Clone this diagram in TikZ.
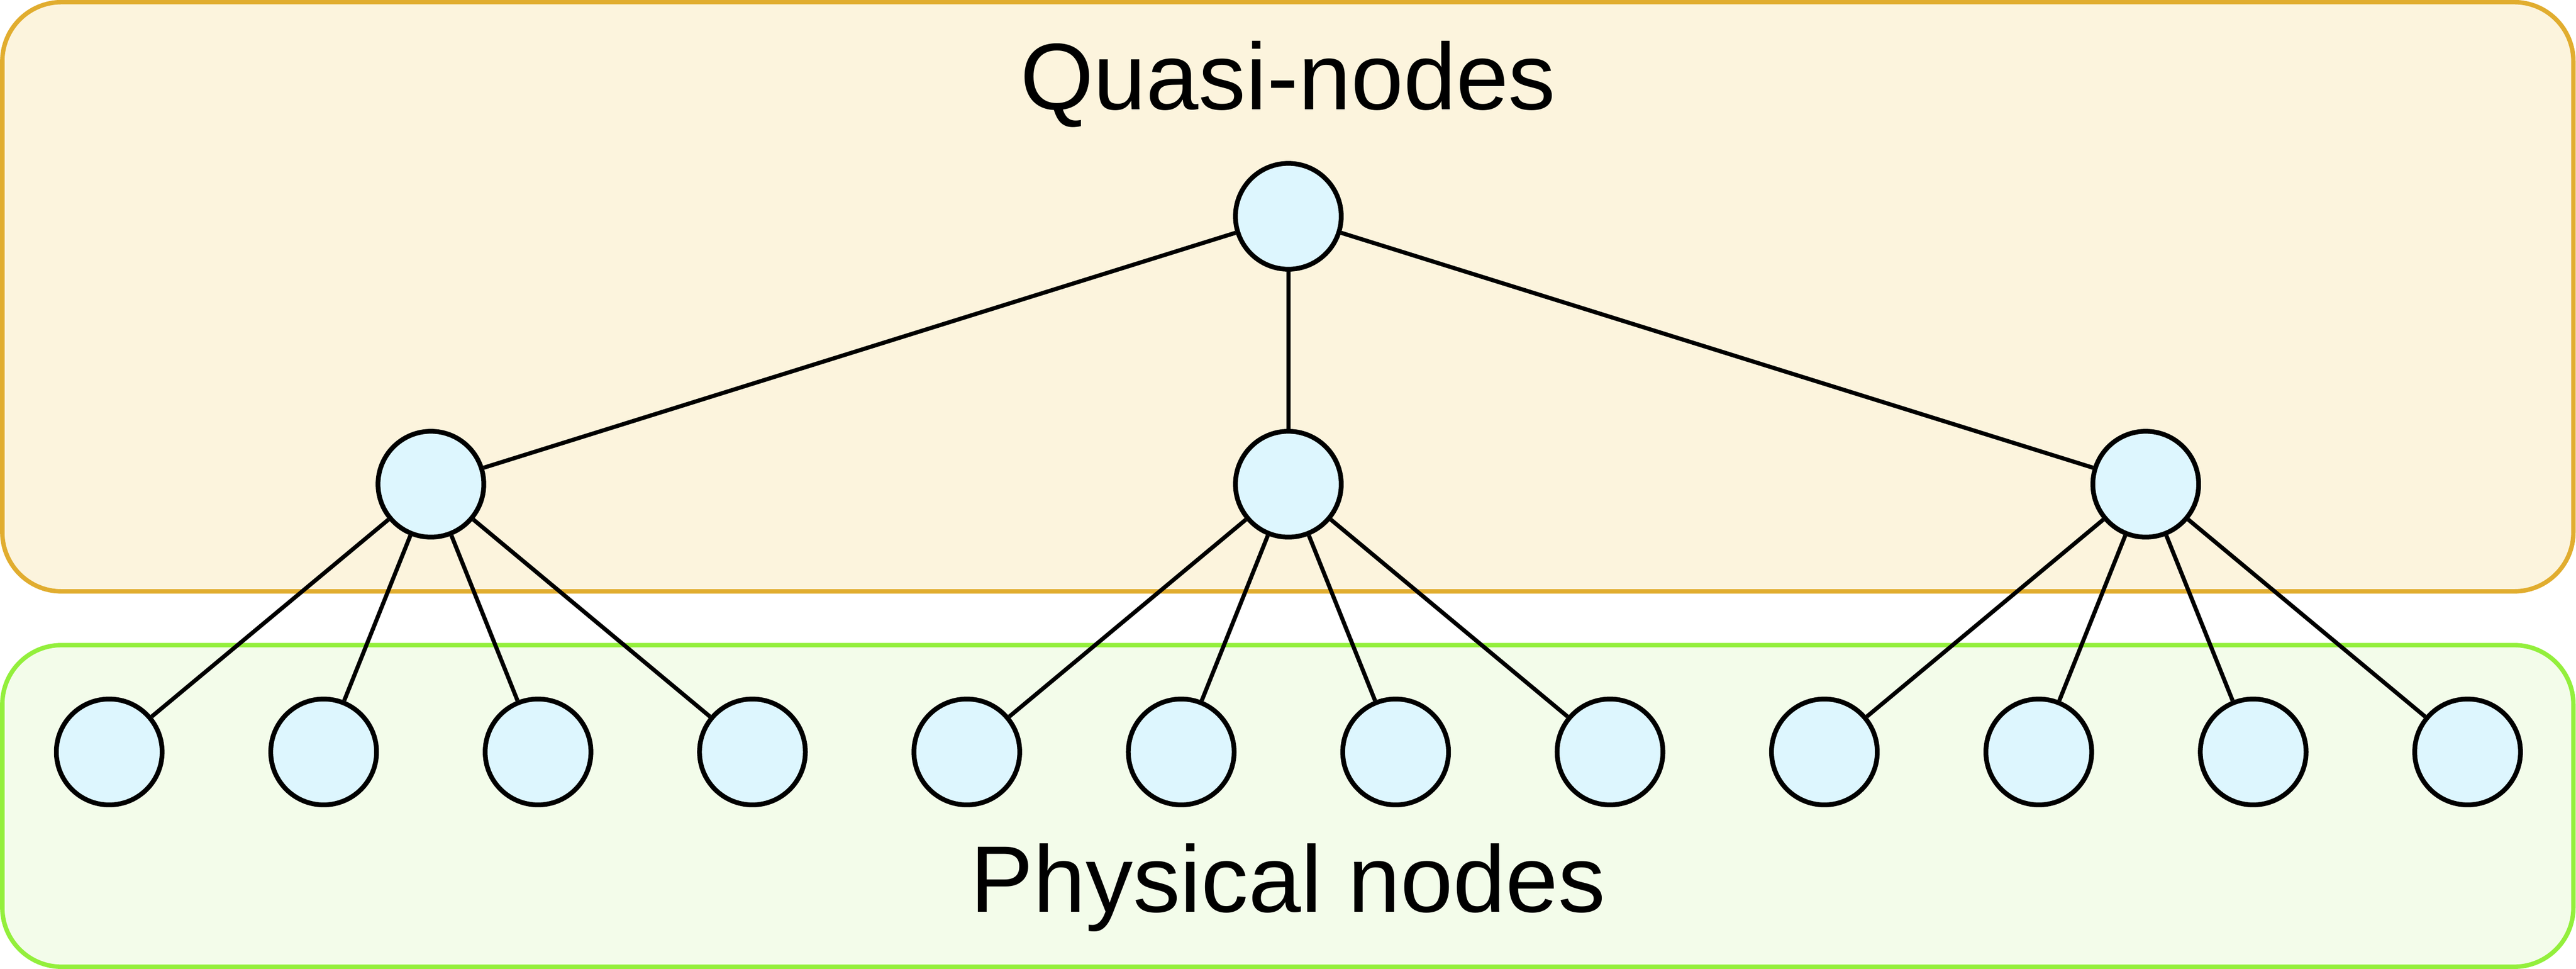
\documentclass[tikz,border=0pt]{standalone}
\usepackage{fontspec}
\setmainfont{Liberation Sans}
\definecolor{quasiline}{HTML}{E1AD2F}
\definecolor{quasifill}{HTML}{FCF4DD}
\definecolor{physline}{HTML}{93EF3C}
\definecolor{physfill}{HTML}{F3FCEA}
\definecolor{vertexfill}{HTML}{DDF6FE}
\begin{document}
\begin{tikzpicture}[x=1pt,y=-1pt,
    vertex/.style={circle,draw=black,fill=vertexfill,line width=2.9pt,inner sep=0pt,minimum size=64.4pt},
    layer/.style={rounded corners=36pt,line width=2.7pt},
    title/.style={anchor=base,font=\fontsize{57.5}{69}\selectfont}]
      \useasboundingbox (0,0) rectangle (1568,589.5);
      \draw[layer,draw=quasiline,fill=quasifill] (1.4,1.3) rectangle (1566.4,359.8);
      \draw[layer,draw=physline,fill=physfill] (1.4,392.5) rectangle (1566.4,588.2);
      \node[title] (qtitle) at (784,66.5) {Quasi-nodes};
      \node[title] (ptitle) at (784,554.8) {Physical nodes};
      \draw
        (784.2,131.6) node[vertex] (r){}
        (262.3,294.6) node[vertex] (m1){}
        (784.2,294.6) node[vertex] (m2){}
        (1306.1,294.6) node[vertex] (m3){}
        (66.5,457.5) node[vertex] (l1){}
        (197.0,457.5) node[vertex] (l2){}
        (327.5,457.5) node[vertex] (l3){}
        (458.0,457.5) node[vertex] (l4){}
        (588.5,457.5) node[vertex] (l5){}
        (719.0,457.5) node[vertex] (l6){}
        (849.5,457.5) node[vertex] (l7){}
        (980.0,457.5) node[vertex] (l8){}
        (1110.5,457.5) node[vertex] (l9){}
        (1241.0,457.5) node[vertex] (l10){}
        (1371.5,457.5) node[vertex] (l11){}
        (1502.0,457.5) node[vertex] (l12){};
      \begin{scope}[-,line width=2.5pt]
        \draw (r) to (m1);
        \draw (r) to (m2);
        \draw (r) to (m3);
        \draw (m1) to (l1);
        \draw (m1) to (l2);
        \draw (m1) to (l3);
        \draw (m1) to (l4);
        \draw (m2) to (l5);
        \draw (m2) to (l6);
        \draw (m2) to (l7);
        \draw (m2) to (l8);
        \draw (m3) to (l9);
        \draw (m3) to (l10);
        \draw (m3) to (l11);
        \draw (m3) to (l12);
      \end{scope}
    \end{tikzpicture}
\end{document}
